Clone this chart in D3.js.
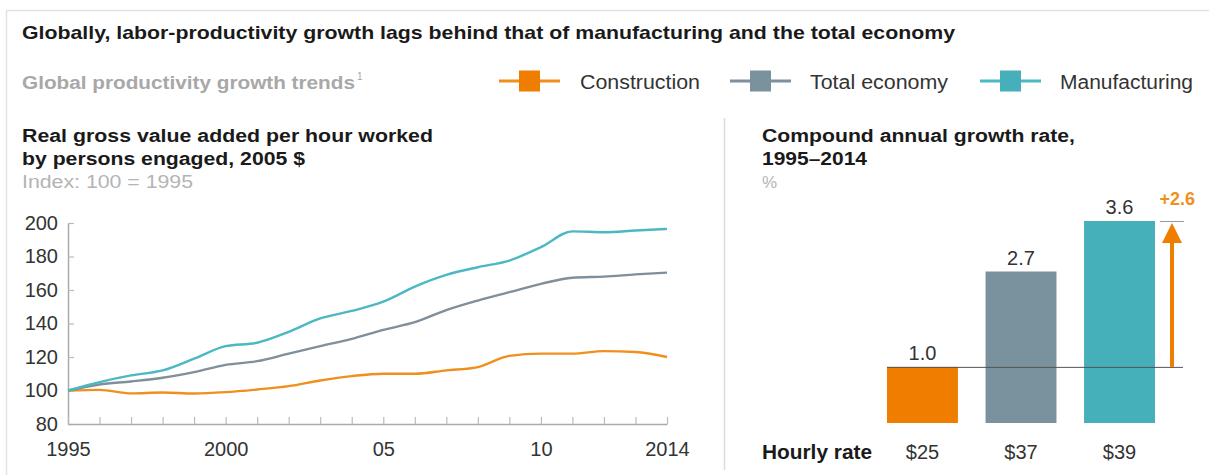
<!DOCTYPE html>
<html>
<head>
<meta charset="utf-8">
<script src="https://cdn.jsdelivr.net/npm/d3@7"></script>
<style>
  body { margin: 0; background: #fff; }
  svg { display: block; font-family: "Liberation Sans", Arial, sans-serif; }
</style>
</head>
<body>
<div id="chart"></div>
<script>
// data
var years = [1995, 1996, 1997, 1998, 1999, 2000, 2001, 2002, 2003, 2004,
             2005, 2006, 2007, 2008, 2009, 2010, 2011, 2012, 2013, 2014];
var construction = [100, 100.4, 98.3, 98.8, 98.2, 99, 100.6, 102.6, 106, 108.6,
                    110, 110, 112, 114, 120.7, 122, 122, 123.5, 123, 120];
var totalEconomy = [100, 103.6, 105.4, 107.6, 111, 115.3, 117.5, 122, 126.5, 130.8,
                    136.2, 140.8, 148, 153.7, 158.7, 163.7, 167.3, 168, 169.3, 170.4];
var manufacturing = [100, 105, 109, 112, 119, 126.5, 128.5, 135, 143, 147.5,
                     153, 162, 169, 173.6, 177.6, 185.6, 195, 194.5, 195.5, 196.5];
var yTicks = [80, 100, 120, 140, 160, 180, 200];
var xLabels = {1995: "1995", 2000: "2000", 2005: "05", 2010: "10", 2014: "2014"};

var seriesNames = ["Construction", "Total economy", "Manufacturing"];
var cagr = [1.0, 2.7, 3.6];
var hourlyRate = ["$25", "$37", "$39"];

var lineColors = ["#f0901c", "#7f8f9b", "#4bb8c4"];
var barColors = ["#ef7d00", "#7a929e", "#45afba"];

var svgWidth = 1209;
var svgHeight = 475;

var svg = d3.select("#chart")
  .append("svg")
  .attr("width", svgWidth)
  .attr("height", svgHeight);

// plain text helper, width fitted to the reference
function label(x, y, str, size, opts) {
  opts = opts || {};
  var t = svg.append("text")
    .attr("x", x).attr("y", y)
    .attr("font-size", size)
    .attr("font-weight", opts.bold ? "bold" : "normal")
    .attr("fill", opts.fill || "#1a1a1a")
    .text(str);
  if (opts.len) t.attr("textLength", opts.len).attr("lengthAdjust", "spacingAndGlyphs");
  if (opts.anchor) t.attr("text-anchor", opts.anchor);
  return t;
}

// frame
svg.append("line").attr("x1", 6).attr("x2", svgWidth).attr("y1", 10.5).attr("y2", 10.5)
  .attr("stroke", "#e2e2e2").attr("stroke-width", 1.5);
svg.append("line").attr("x1", 6.5).attr("x2", 6.5).attr("y1", 10).attr("y2", svgHeight)
  .attr("stroke", "#e2e2e2").attr("stroke-width", 1.5);

// title
label(22, 39, "Globally, labor-productivity growth lags behind that of manufacturing and the total economy",
  19, {bold: true, len: 933});

label(22, 89, "Global productivity growth trends", 18, {bold: true, fill: "#a8a8a8", len: 333});
label(357, 80, "1", 10, {fill: "#a8a8a8"});

// legend
var legendX = [499, 730, 980];
var legendTextX = [580, 810, 1060];
var legendLen = [120, 138, 133];
var legend = svg.selectAll(".legend")
  .data(seriesNames)
  .enter()
  .append("g")
  .attr("transform", (d, i) => `translate(${legendX[i]}, 81)`);

legend.append("line")
  .attr("x1", 0).attr("x2", 61)
  .attr("stroke", (d, i) => lineColors[i]).attr("stroke-width", 3);
legend.append("rect")
  .attr("x", 20).attr("y", -10.5).attr("width", 21).attr("height", 21)
  .attr("fill", (d, i) => barColors[i]);
legend.append("text")
  .attr("x", (d, i) => legendTextX[i] - legendX[i]).attr("y", 8)
  .attr("font-size", 20).attr("fill", "#333")
  .attr("textLength", (d, i) => legendLen[i])
  .attr("lengthAdjust", "spacingAndGlyphs")
  .text(d => d);

// left panel headings
label(22, 142, "Real gross value added per hour worked", 18, {bold: true, len: 411});
label(22, 165, "by persons engaged, 2005 $", 18, {bold: true, len: 283});
label(22, 188, "Index: 100 = 1995", 18, {fill: "#b4b4b4", len: 171});

// line chart
var xScale = d3.scaleLinear().domain([1995, 2014]).range([68, 667]);
var yScale = d3.scaleLinear().domain([80, 200]).range([424, 223]);

var yAxis = d3.axisLeft(yScale)
  .tickValues(yTicks)
  .tickSizeInner(-6)
  .tickSizeOuter(0)
  .tickPadding(10);

var xAxis = d3.axisBottom(xScale)
  .tickValues(years)
  .tickFormat(d => xLabels[d] || "")
  .tickSizeInner(-7)
  .tickSizeOuter(0)
  .tickPadding(18);

var gy = svg.append("g").attr("transform", "translate(68,0)").call(yAxis);
var gx = svg.append("g").attr("transform", "translate(0,424)").call(xAxis);

[gx, gy].forEach(g => {
  g.select(".domain").attr("stroke", "#aaa").attr("stroke-width", 1.5);
  g.selectAll(".tick line").attr("stroke", "#bbb").attr("stroke-width", 1.2);
  g.selectAll(".tick text")
    .attr("font-size", 20)
    .attr("fill", "#333")
    .attr("font-family", "Liberation Sans, Arial, sans-serif");
});

var lineGen = d3.line()
  .x((d, i) => xScale(years[i]))
  .y(d => yScale(d))
  .curve(d3.curveMonotoneX);

var lineSeries = [construction, totalEconomy, manufacturing];
svg.selectAll(".series")
  .data(lineSeries)
  .enter()
  .append("path")
  .attr("d", lineGen)
  .attr("fill", "none")
  .attr("stroke", (d, i) => lineColors[i])
  .attr("stroke-width", 2.4)
  .attr("stroke-linejoin", "round");

// divider
svg.append("line").attr("x1", 724.5).attr("x2", 724.5).attr("y1", 118).attr("y2", 470)
  .attr("stroke", "#dcdcdc").attr("stroke-width", 1.5);

// right panel headings
label(762, 142, "Compound annual growth rate,", 18, {bold: true, len: 313});
label(762, 165, "1995\u20132014", 18, {bold: true, len: 105});
label(762, 188, "%", 17, {fill: "#b4b4b4"});

// bar chart
var xBand = d3.scaleBand().domain(seriesNames).range([887, 1155]).paddingInner(0.28).paddingOuter(0);
var yBar = d3.scaleLinear().domain([0, 3.6]).range([423, 221]);

svg.selectAll(".bar")
  .data(cagr)
  .enter()
  .append("rect")
  .attr("x", (d, i) => xBand(seriesNames[i]))
  .attr("y", d => yBar(d))
  .attr("width", xBand.bandwidth())
  .attr("height", d => yBar(0) - yBar(d))
  .attr("fill", (d, i) => barColors[i]);

svg.selectAll(".barLabel")
  .data(cagr)
  .enter()
  .append("text")
  .attr("x", (d, i) => xBand(seriesNames[i]) + xBand.bandwidth() / 2)
  .attr("y", d => yBar(d) - 7)
  .attr("text-anchor", "middle")
  .attr("font-size", 20).attr("fill", "#333")
  .text(d => d.toFixed(1));

// reference line at construction level
var arrowX = xBand(seriesNames[2]) + xBand.bandwidth() + 17;
svg.append("line")
  .attr("x1", xBand(seriesNames[0])).attr("x2", arrowX + 11)
  .attr("y1", yBar(cagr[0]) + 0.5).attr("y2", yBar(cagr[0]) + 0.5)
  .attr("stroke", "#555").attr("stroke-width", 1);
svg.append("line")
  .attr("x1", arrowX - 12).attr("x2", arrowX + 12)
  .attr("y1", yBar(cagr[2]) + 0.5).attr("y2", yBar(cagr[2]) + 0.5)
  .attr("stroke", "#999").attr("stroke-width", 1);

// arrow showing the gap
svg.append("line")
  .attr("x1", arrowX).attr("x2", arrowX)
  .attr("y1", yBar(cagr[0])).attr("y2", yBar(cagr[2]) + 18)
  .attr("stroke", "#ef7d00").attr("stroke-width", 4);
svg.append("path")
  .attr("d", `M${arrowX - 10},${yBar(cagr[2]) + 22}L${arrowX + 10},${yBar(cagr[2]) + 22}L${arrowX},${yBar(cagr[2]) + 2}Z`)
  .attr("fill", "#ef7d00");
svg.append("text")
  .attr("x", 1195).attr("y", yBar(cagr[2]) - 16)
  .attr("text-anchor", "end")
  .attr("font-size", 18).attr("font-weight", "bold").attr("fill", "#f0901c")
  .text("+" + (cagr[2] - cagr[0]).toFixed(1));

// hourly rate row
label(762, 459, "Hourly rate", 20, {bold: true, len: 110});
svg.selectAll(".rate")
  .data(hourlyRate)
  .enter()
  .append("text")
  .attr("x", (d, i) => xBand(seriesNames[i]) + xBand.bandwidth() / 2)
  .attr("y", 459)
  .attr("text-anchor", "middle")
  .attr("font-size", 20).attr("fill", "#333")
  .text(d => d);
</script>
</body>
</html>
